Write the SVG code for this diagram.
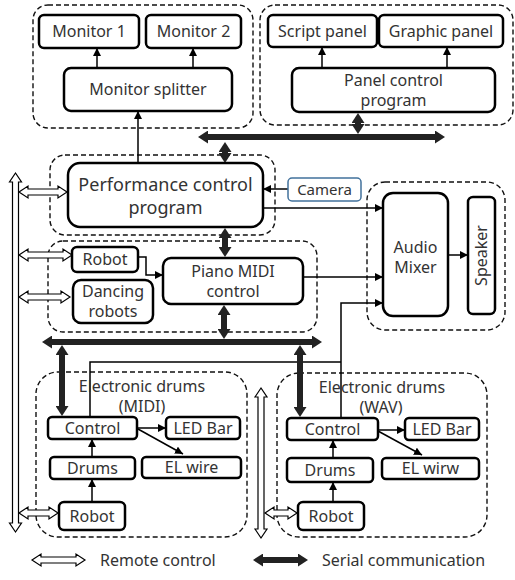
<svg xmlns="http://www.w3.org/2000/svg" width="515" height="580" viewBox="0 0 515 580">
<style>
.grp{fill:none;stroke:#111;stroke-width:1.4;stroke-dasharray:5 3}
.box{fill:#fff;stroke:#000;stroke-width:2.5}
.cam{fill:#fff;stroke:#41719c;stroke-width:1.5}
.t{font-family:"Noto Sans","DejaVu Sans",sans-serif;font-size:16px;fill:#333;text-anchor:middle}
.tl{font-family:"Noto Sans","DejaVu Sans",sans-serif;font-size:16px;fill:#333}
.big{font-size:18px}
.thin{fill:none;stroke:#000;stroke-width:1.5;marker-end:url(#ah)}
.line{fill:none;stroke:#000;stroke-width:1.5}
.serial{fill:none;stroke:#222;stroke-width:6;marker-start:url(#th);marker-end:url(#th)}
.remote{fill:#fff;stroke:#000;stroke-width:1.2}
</style>
<defs>
<marker id="ah" viewBox="0 0 8 8" refX="8" refY="4" markerWidth="8" markerHeight="8" markerUnits="userSpaceOnUse" orient="auto"><path d="M0,0 L8,4 L0,8 z" fill="#000"/></marker>
<marker id="th" viewBox="0 0 10 13" refX="3" refY="6.5" markerWidth="10" markerHeight="13" markerUnits="userSpaceOnUse" orient="auto-start-reverse"><path d="M0,0 L10,6.5 L0,13 z" fill="#222"/></marker>
</defs>
<g id="groups">
<rect class="grp" x="33" y="5" width="220" height="123" rx="15"/>
<rect class="grp" x="260" y="5" width="253" height="120" rx="15"/>
<rect class="grp" x="50" y="155" width="225" height="80" rx="15"/>
<rect class="grp" x="48" y="241" width="269" height="91" rx="15"/>
<rect class="grp" x="367" y="182" width="138" height="148" rx="18"/>
<rect class="grp" x="36" y="372" width="211" height="165" rx="22"/>
<rect class="grp" x="277" y="373" width="210" height="164" rx="22"/>
</g>
<g id="connectors">
<line class="thin" x1="97" y1="68" x2="97" y2="48"/>
<line class="thin" x1="193" y1="68" x2="193" y2="48"/>
<line class="thin" x1="138" y1="163" x2="138" y2="111"/>
<line class="thin" x1="322" y1="68" x2="322" y2="47"/>
<line class="thin" x1="447" y1="68" x2="447" y2="47"/>
<line class="thin" x1="288" y1="189" x2="263" y2="189"/>
<line class="thin" x1="263" y1="208" x2="383" y2="208"/>
<line class="thin" x1="303" y1="277" x2="383" y2="277"/>
<path class="line" d="M90,417 V362 H341"/>
<path class="thin" d="M341,418 V303 H383"/>
<line class="thin" x1="448" y1="255" x2="468" y2="255"/>
<path class="thin" d="M138,257 H146 V275 H163"/>
<line class="thin" x1="92" y1="457" x2="92" y2="439"/>
<line class="thin" x1="92" y1="502" x2="92" y2="479"/>
<line class="thin" x1="137" y1="428" x2="166" y2="428"/>
<line class="thin" x1="138" y1="429" x2="183" y2="454"/>
<line class="thin" x1="333" y1="458" x2="333" y2="440"/>
<line class="thin" x1="333" y1="502" x2="333" y2="482"/>
<line class="thin" x1="378" y1="430" x2="405" y2="430"/>
<line class="thin" x1="378" y1="431" x2="422" y2="455"/>
<line class="serial" x1="205" y1="137" x2="438" y2="137"/>
<line class="serial" x1="225" y1="149" x2="225" y2="156"/>
<line class="serial" x1="358" y1="120" x2="358" y2="127"/>
<line class="serial" x1="225" y1="235" x2="225" y2="250"/>
<line class="serial" x1="224" y1="312" x2="224" y2="332"/>
<line class="serial" x1="49" y1="342" x2="315" y2="342"/>
<line class="serial" x1="62" y1="352" x2="62" y2="409"/>
<line class="serial" x1="300" y1="352" x2="300" y2="410"/>
<path class="remote" d="M15.5,173 L21.5,182 L18.5,182 L18.5,523 L21.5,523 L15.5,532 L9.5,523 L12.5,523 L12.5,182 L9.5,182 Z"/>
<path class="remote" d="M261,388 L267,397 L264,397 L264,529 L267,529 L261,538 L255,529 L258,529 L258,397 L255,397 Z"/>
<path class="remote" d="M19,192 L28,186 L28,189 L58,189 L58,186 L67,192 L58,198 L58,195 L28,195 L28,198 Z"/>
<path class="remote" d="M19,255 L28,249 L28,252 L63,252 L63,249 L72,255 L63,261 L63,258 L28,258 L28,261 Z"/>
<path class="remote" d="M19,297 L28,291 L28,294 L61,294 L61,291 L70,297 L61,303 L61,300 L28,300 L28,303 Z"/>
<path class="remote" d="M19,513 L28,507 L28,510 L49,510 L49,507 L58,513 L49,519 L49,516 L28,516 L28,519 Z"/>
<path class="remote" d="M265,513 L274,507 L274,510 L288,510 L288,507 L297,513 L288,519 L288,516 L274,516 L274,519 Z"/>
</g>
<g id="monitor1"><rect class="box" x="39" y="15" width="100" height="33" rx="5"/><text class="t" x="89" y="37">Monitor 1</text></g>
<g id="monitor2"><rect class="box" x="146" y="15" width="95" height="33" rx="5"/><text class="t" x="193.5" y="37">Monitor 2</text></g>
<g id="splitter"><rect class="box" x="64" y="68" width="168" height="43" rx="7"/><text class="t" x="148" y="95">Monitor splitter</text></g>
<g id="script"><rect class="box" x="268" y="15" width="109" height="32" rx="5"/><text class="t" x="322.5" y="37">Script panel</text></g>
<g id="graphic"><rect class="box" x="379" y="15" width="124" height="32" rx="5"/><text class="t" x="441" y="37">Graphic panel</text></g>
<g id="panelctl"><rect class="box" x="292" y="68" width="203" height="44" rx="7"/><text class="t" x="393.5" y="86">Panel control</text><text class="t" x="393.5" y="106">program</text></g>
<g id="perf"><rect class="box" x="68" y="163" width="195" height="64" rx="12"/><text class="t big" x="165.5" y="191">Performance control</text><text class="t big" x="165.5" y="214">program</text></g>
<g id="camera"><rect class="cam" x="288" y="178" width="73" height="23" rx="4"/><text class="t" x="324.5" y="195" style="font-size:15px">Camera</text></g>
<g id="robot1"><rect class="box" x="72" y="247" width="66" height="25" rx="5"/><text class="t" x="105" y="265">Robot</text></g>
<g id="dancing"><rect class="box" x="73" y="280" width="80" height="43" rx="8"/><text class="t" x="113" y="297">Dancing</text><text class="t" x="113" y="317">robots</text></g>
<g id="piano"><rect class="box" x="163" y="258" width="140" height="46" rx="8"/><text class="t" x="233" y="277">Piano MIDI</text><text class="t" x="233" y="297">control</text></g>
<g id="mixer"><rect class="box" x="383" y="193" width="65" height="123" rx="10"/><text class="t" x="415.5" y="253">Audio</text><text class="t" x="415.5" y="273">Mixer</text></g>
<g id="speaker"><rect class="box" x="468" y="197" width="27" height="117" rx="5"/><text class="t" transform="translate(487,255.5) rotate(-90)" x="0" y="0">Speaker</text></g>
<g id="midi-drums-label"><text class="t" x="142" y="392">Electronic drums</text><text class="t" x="142" y="412">(MIDI)</text></g>
<g id="midi-control"><rect class="box" x="48" y="417" width="89" height="22" rx="4"/><text class="t" x="92.5" y="434">Control</text></g>
<g id="midi-led"><rect class="box" x="166" y="417" width="74" height="22" rx="4"/><text class="t" x="203" y="434">LED Bar</text></g>
<g id="midi-drums"><rect class="box" x="50" y="457" width="85" height="22" rx="4"/><text class="t" x="92.5" y="474">Drums</text></g>
<g id="midi-el"><rect class="box" x="142" y="457" width="99" height="21" rx="4"/><text class="t" x="191.5" y="473">EL wire</text></g>
<g id="midi-robot"><rect class="box" x="59" y="502" width="66" height="28" rx="5"/><text class="t" x="92" y="522">Robot</text></g>
<g id="wav-drums-label"><text class="t" x="382" y="393">Electronic drums</text><text class="t" x="381" y="413">(WAV)</text></g>
<g id="wav-control"><rect class="box" x="287" y="418" width="91" height="22" rx="4"/><text class="t" x="332.5" y="435">Control</text></g>
<g id="wav-led"><rect class="box" x="405" y="418" width="74" height="22" rx="4"/><text class="t" x="442" y="435">LED Bar</text></g>
<g id="wav-drums"><rect class="box" x="287" y="458" width="86" height="24" rx="4"/><text class="t" x="330" y="476">Drums</text></g>
<g id="wav-el"><rect class="box" x="382" y="458" width="97" height="21" rx="4"/><text class="t" x="430.5" y="474">EL wirw</text></g>
<g id="wav-robot"><rect class="box" x="298" y="502" width="66" height="28" rx="5"/><text class="t" x="331" y="522">Robot</text></g>
<g id="legend">
<path class="remote" d="M32,560 L41,554 L41,557 L76,557 L76,554 L85,560 L76,566 L76,563 L41,563 L41,566 Z"/>
<text class="tl" x="100" y="566">Remote control</text>
<line class="serial" x1="260" y1="560" x2="301" y2="560"/>
<text class="tl" x="322" y="566">Serial communication</text>
</g>
</svg>
